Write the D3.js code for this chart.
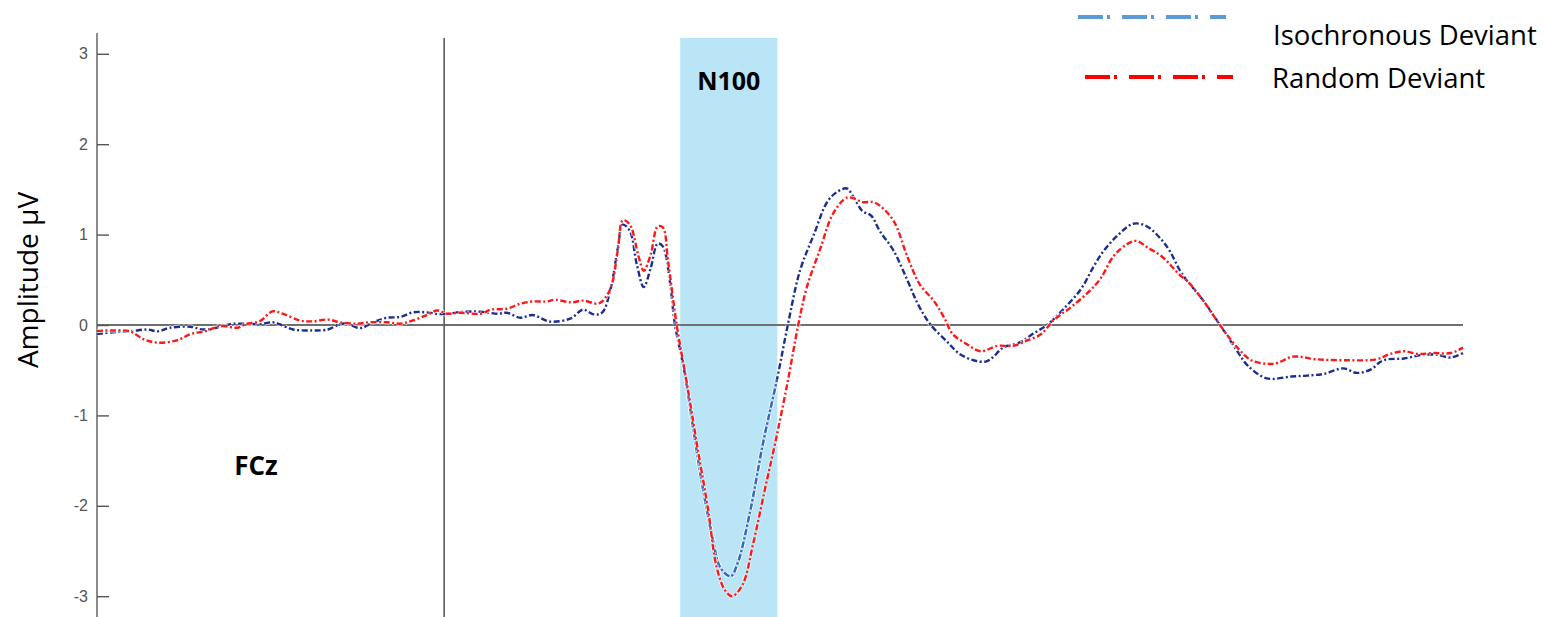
<!DOCTYPE html>
<html>
<head>
<meta charset="utf-8">
<script src="https://cdn.jsdelivr.net/npm/d3@7"></script>
<style>
  html, body { margin: 0; padding: 0; background: #fff; }
  svg { display: block; }
</style>
</head>
<body>
<svg id="chart" width="1546" height="617"></svg>
<script>
// ---- data (time in ms, amplitude in µV) ----
const isoTimes = [-200,-191,-181,-171,-165,-158,-146,-139,-131,-123,-114,-106,-99,-95,-87,-76,-67,-60,-56,-50,-47,-41,-33,-25,-18,-10,-1,11,21,31,36,44,51,61,73,80,86,91,96,100,103,107,111,115,119,123,126,130,133,138,144,149,155,159,165,169,176,184,192,198,205,213,221,227,232,236,241,246,251,259,267,273,280,290,297,305,312,316,322,332,339,348,357,367,374,380,388,397,405,413,418,424,428,437,447,457,463,474,488,497,507,518,526,534,541,553,564,572,580,587];
const isoValues = [-0.10,-0.08,-0.07,-0.05,-0.07,-0.03,-0.02,-0.05,-0.03,0.01,0.015,0.01,0.03,0.01,-0.05,-0.06,-0.05,0.01,0.015,-0.03,-0.03,0.03,0.08,0.09,0.14,0.14,0.12,0.147,0.147,0.125,0.135,0.08,0.11,0.037,0.074,0.17,0.118,0.136,0.41,0.85,1.11,1.04,0.67,0.42,0.63,0.90,0.87,0.49,0.0,-0.47,-1.21,-1.80,-2.39,-2.68,-2.78,-2.64,-2.09,-1.28,-0.58,0.0,0.60,1.0,1.37,1.48,1.51,1.41,1.26,1.21,1.04,0.82,0.49,0.23,0.01,-0.19,-0.32,-0.39,-0.405,-0.36,-0.25,-0.19,-0.10,0.01,0.18,0.40,0.64,0.82,0.99,1.12,1.09,0.95,0.82,0.60,0.49,0.28,0.0,-0.29,-0.45,-0.59,-0.57,-0.56,-0.54,-0.48,-0.53,-0.49,-0.39,-0.37,-0.33,-0.33,-0.36,-0.31];

const rndTimes = [-200,-191,-181,-173,-165,-154,-146,-137,-129,-119,-114,-106,-99,-93,-83,-76,-67,-60,-50,-43,-33,-25,-18,-10,-4,2,9,21,27,36,44,51,59,64,73,80,88,91,96,100,103,107,112,115,119,123,126,129,134,140,146,152,157,162,166,172,178,185,191,198,204,209,217,224,232,236,241,247,251,259,267,274,282,288,293,301,309,319,328,336,344,351,361,371,378,386,394,399,405,414,424,428,437,447,457,465,474,480,489,503,520,537,545,553,561,570,580,587];
const rndValues = [-0.066,-0.06,-0.07,-0.16,-0.195,-0.17,-0.10,-0.066,-0.01,-0.03,0.01,0.045,0.15,0.125,0.05,0.04,0.06,0.03,0.015,0.03,0.03,0.015,0.05,0.11,0.16,0.125,0.136,0.125,0.17,0.18,0.236,0.26,0.26,0.28,0.25,0.27,0.236,0.26,0.41,0.82,1.16,1.11,0.76,0.60,0.78,1.09,1.08,0.71,0.0,-0.66,-1.36,-2.03,-2.68,-2.94,-3.0,-2.87,-2.42,-1.80,-1.28,-0.62,0.0,0.42,0.86,1.23,1.41,1.40,1.36,1.36,1.32,1.15,0.75,0.45,0.27,0.085,-0.10,-0.21,-0.29,-0.23,-0.23,-0.17,-0.10,0.05,0.195,0.36,0.51,0.77,0.90,0.93,0.86,0.75,0.55,0.49,0.28,0.0,-0.25,-0.39,-0.43,-0.42,-0.35,-0.38,-0.39,-0.38,-0.32,-0.29,-0.32,-0.31,-0.31,-0.25];

const yTicks = [-3, -2, -1, 0, 1, 2, 3];
const yTickLabels = ["-3", "-2", "-1", "0", "1", "2", "3"];
const n100Window = [136, 192];
const seriesNames = ["Isochronous Deviant", "Random Deviant"];
const channelLabel = "FCz";
const componentLabel = "N100";
const yLabel = "Amplitude µV";

// ---- scales ----
const svg = d3.select("#chart");
const x = d3.scaleLinear().domain([-200, 587]).range([97, 1463]);
const y = d3.scaleLinear().domain([-3.23, 3.23]).range([617, 33]);

// N100 shaded window
svg.append("rect")
  .attr("x", x(n100Window[0])).attr("y", 38)
  .attr("width", x(n100Window[1]) - x(n100Window[0]))
  .attr("height", 617 - 38)
  .attr("fill", "#b9e5f6");

// zero line and stimulus onset line
svg.append("line")
  .attr("x1", x(-200)).attr("x2", x(587))
  .attr("y1", y(0)).attr("y2", y(0))
  .attr("stroke", "#6f6f6f").attr("stroke-width", 2);
svg.append("line")
  .attr("x1", x(0)).attr("x2", x(0))
  .attr("y1", 38).attr("y2", 617)
  .attr("stroke", "#5a5a5a").attr("stroke-width", 1.6);

// y axis
const yAxis = d3.axisRight(y).tickValues(yTicks).tickSize(12)
  .tickFormat((d, i) => yTickLabels[i]);
const gy = svg.append("g").attr("transform", `translate(${x(-200)},0)`).call(yAxis);
gy.select(".domain").attr("stroke", "#6f6f6f").attr("stroke-width", 1.6).attr("d", `M0,${y.range()[1]}V${y.range()[0]}`);
gy.selectAll(".tick line").attr("stroke", "#555").attr("stroke-width", 1.4);
gy.selectAll(".tick text")
  .attr("x", -9).attr("text-anchor", "end")
  .attr("fill", "#555")
  .style("font-family", "'Liberation Sans', Arial, sans-serif")
  .style("font-size", "16px");

// y label
svg.append("text")
  .attr("transform", `translate(38,280) rotate(-90)`)
  .attr("text-anchor", "middle")
  .style("font-family", "'Open Sans', sans-serif")
  .style("font-size", "28px")
  .attr("fill", "#000")
  .text(yLabel);

// lines
const line = d3.line().x(d => x(d[0])).y(d => y(d[1])).curve(d3.curveCatmullRom.alpha(0.5));
const isoData = d3.zip(isoTimes, isoValues);
const rndData = d3.zip(rndTimes, rndValues);

const dash = "6,2.5,2,2.5";

// clip for lighter blue portion in the N100 trough
svg.append("clipPath").attr("id", "troughClip")
  .append("rect")
  .attr("x", x(n100Window[0])).attr("y", y(-0.6))
  .attr("width", x(n100Window[1]) - x(n100Window[0]))
  .attr("height", 617 - y(-0.6));

function drawSeries(data, color, clip) {
  const g = svg.append("g");
  if (clip) g.attr("clip-path", clip);
  g.append("path").datum(data).attr("d", line)
    .attr("fill", "none").attr("stroke", "#fff").attr("stroke-opacity", 0.7)
    .attr("stroke-width", 4.4).attr("stroke-dasharray", dash);
  g.append("path").datum(data).attr("d", line)
    .attr("fill", "none").attr("stroke", color)
    .attr("stroke-width", 2.4).attr("stroke-dasharray", dash);
}
drawSeries(isoData, "#1b2d8f");
drawSeries(isoData, "#3567bd", "url(#troughClip)");
drawSeries(rndData, "#ff1717");

// labels
svg.append("text")
  .attr("x", (x(n100Window[0]) + x(n100Window[1])) / 2).attr("y", 90)
  .attr("text-anchor", "middle")
  .style("font-family", "'Open Sans', sans-serif").style("font-weight", "bold")
  .style("font-size", "25px").text(componentLabel);
svg.append("text")
  .attr("x", 256).attr("y", 475)
  .attr("text-anchor", "middle")
  .style("font-family", "'Open Sans', sans-serif").style("font-weight", "bold")
  .style("font-size", "26px").text(channelLabel);

// legend
const legend = [
  {name: seriesNames[0], color: "#5b9bd5", x1: 1078, x2: 1226, ly: 17, tx: 1273, ty: 45},
  {name: seriesNames[1], color: "#ff0000", x1: 1085, x2: 1233, ly: 77, tx: 1272, ty: 88}
];
const lg = svg.append("g");
legend.forEach(l => {
  lg.append("line")
    .attr("x1", l.x1).attr("x2", l.x2).attr("y1", l.ly).attr("y2", l.ly)
    .attr("stroke", l.color).attr("stroke-width", 4)
    .attr("stroke-dasharray", "25,4,3,12");
  lg.append("text")
    .attr("x", l.tx).attr("y", l.ty)
    .style("font-family", "'Open Sans', sans-serif")
    .style("font-size", "27.5px").attr("fill", "#000")
    .text(l.name);
});
</script>
</body>
</html>
